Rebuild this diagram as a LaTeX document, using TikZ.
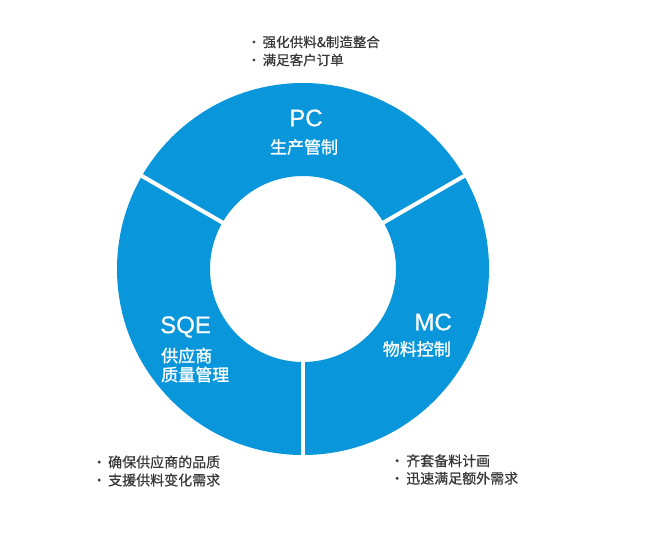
\documentclass[tikz,border=0pt]{standalone}
\usepackage{fontspec}
\setmainfont{Noto Sans CJK SC}
\newfontfamily\cjkbold[FakeBold=1.2]{Noto Sans CJK SC}
\newfontfamily\cjkmed[FakeBold=0.6]{Noto Sans CJK SC}
\newfontfamily\latinf[FakeBold=0.6]{Liberation Sans}
\usetikzlibrary{calc}
\definecolor{ringblue}{HTML}{0A96DB}
\definecolor{notegray}{HTML}{383838}
\newcommand{\bul}{•\hspace{2pt}}
\tikzset{
  ring/.style={fill=ringblue, even odd rule},
  divider/.style={draw=white, line width=4pt},
  abbr/.style={text=white, inner sep=0pt, font=\latinf\fontsize{24}{28}\selectfont},
  role/.style={text=white, inner sep=0pt, align=left, font=\cjkbold\fontsize{17}{19}\selectfont},
  note/.style={text=notegray, inner sep=0pt, align=left, font=\cjkmed\fontsize{13.5}{18}\selectfont}
}
\begin{document}
\begin{tikzpicture}[x=1pt,y=-1pt]
\useasboundingbox (0,0) rectangle (660,542);
\coordinate (c) at (303,269);
\fill[ring] (c) circle[radius=186pt] (c) circle[radius=93pt];
\foreach \a in {90,210,330}{
  \draw[divider] ($(c)+(\a:90)$) -- ($(c)+(\a:190)$);
}
% PC segment
\node[abbr] (pc) at (306,118) {PC};
\node[role] (pcrole) at (304,147) {生产管制};
% MC segment
\node[abbr, anchor=east] (mc) at (452,322) {MC};
\node[role, anchor=east] (mcrole) at (451,349) {物料控制};
% SQE segment
\node[abbr, anchor=west] (sqe) at (160,327) {SQE};
\node[role, anchor=west] (sqerole) at (161,365) {供应商\\质量管理};
% notes
\node[note, anchor=west] (pcnote) at (247,51) {\bul 强化供料\&制造整合\\\bul 满足客户订单};
\node[note, anchor=west, font=\cjkmed\fontsize{14}{18}\selectfont] (sqenote) at (92,471) {\bul 确保供应商的品质\\\bul 支援供料变化需求};
\node[note, anchor=west, font=\cjkmed\fontsize{14}{17.5}\selectfont] (mcnote) at (390,469.5) {\bul 齐套备料计画\\\bul 迅速满足额外需求};
\end{tikzpicture}
\end{document}
